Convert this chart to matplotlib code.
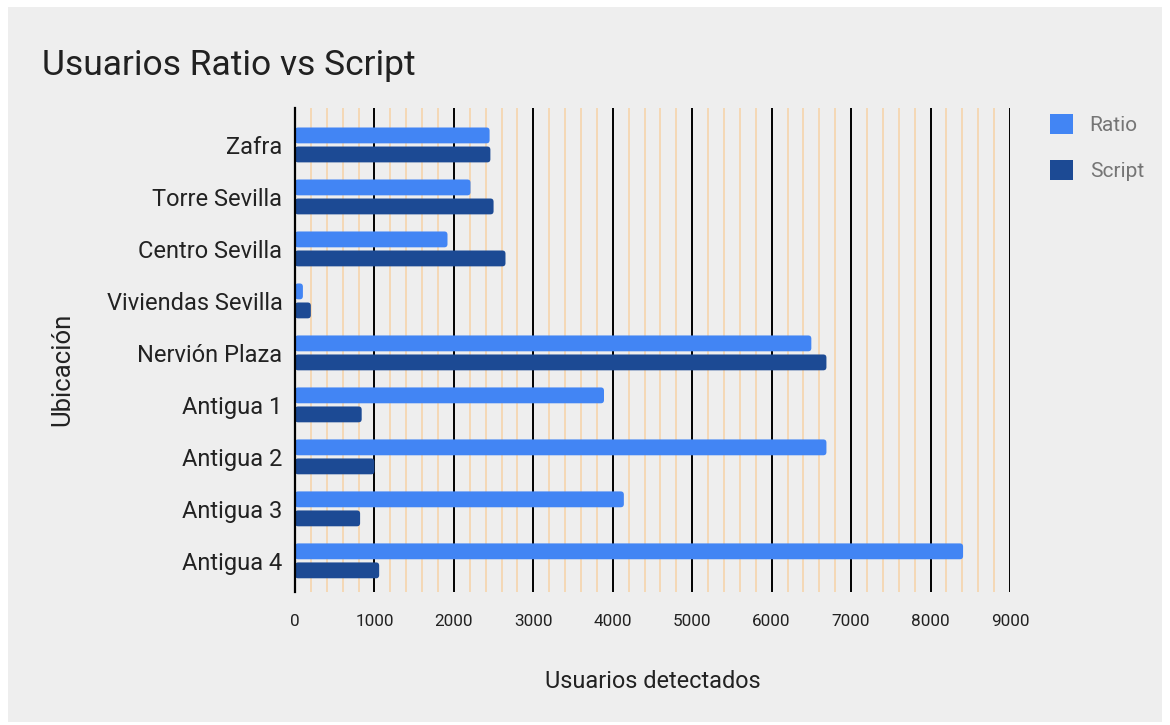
import numpy as np
import matplotlib.pyplot as plt
from matplotlib.patches import Rectangle, FancyBboxPatch, Patch
from matplotlib.ticker import MultipleLocator

plt.rcParams["font.family"] = ["Roboto", "DejaVu Sans"]

ubicaciones = ["Zafra", "Torre Sevilla", "Centro Sevilla", "Viviendas Sevilla",
               "Nervión Plaza", "Antigua 1", "Antigua 2", "Antigua 3", "Antigua 4"]
ratio = [2450, 2210, 1920, 100, 6500, 3890, 6690, 4140, 8410]
script = [2460, 2500, 2650, 200, 6690, 840, 1000, 820, 1060]

color_ratio = "#4285f4"
color_script = "#1c4a94"
fondo = "#eeeeee"

fig = plt.figure(figsize=(11.7, 7.25), dpi=100, facecolor="white")
fig.patches.append(Rectangle((0.007, 0.004), 0.986, 0.986, transform=fig.transFigure,
                             facecolor=fondo, edgecolor="none", zorder=-10))

ax = fig.add_axes([0.2521, 0.1834, 0.6111, 0.6676])
ax.set_facecolor(fondo)

ax.set_xlim(0, 9000)
ax.set_ylim(8.6, -0.71)

y = np.arange(len(ubicaciones))
alto = 0.305
bars_r = ax.barh(y - 0.183, ratio, height=alto, color=color_ratio, zorder=3)
bars_s = ax.barh(y + 0.183, script, height=alto, color=color_script, zorder=3)

# barras con extremos redondeados: se sustituye cada rectángulo por un FancyBboxPatch
asp = (9.31 / 484) / (9000 / 715)
for cont, col in [(bars_r, color_ratio), (bars_s, color_script)]:
    for p in cont.patches:
        p.set_visible(False)
        r = min(40, p.get_width() / 2)
        fb = FancyBboxPatch((p.get_x(), p.get_y()), p.get_width(), p.get_height(),
                            boxstyle=f"round,pad=0,rounding_size={r}",
                            mutation_aspect=asp, facecolor=col, edgecolor="none",
                            zorder=3)
        ax.add_patch(fb)

ax.set_yticks(y)
ax.set_yticklabels(ubicaciones)
ax.xaxis.set_major_locator(MultipleLocator(1000))
ax.xaxis.set_minor_locator(MultipleLocator(200))

ax.grid(axis="x", which="major", color="black", linewidth=1.4, zorder=1)
ax.grid(axis="x", which="minor", color="#f7d2a6", linewidth=1.1, zorder=0)
ax.set_axisbelow(True)

for s in ["top", "right", "bottom"]:
    ax.spines[s].set_visible(False)
ax.spines["left"].set_color("black")
ax.spines["left"].set_linewidth(1.6)
ax.spines["left"].set_zorder(4)

ax.tick_params(axis="both", which="both", length=0)
ax.tick_params(axis="y", labelsize=17, pad=9, colors="#222222")
ax.tick_params(axis="x", labelsize=12.3, pad=16, colors="#222222")

fig.text(0.036, 0.91, "Usuarios Ratio vs Script", fontsize=25.5, color="#212121",
         va="center", ha="left")
fig.text(0.5577, 0.06, "Usuarios detectados", fontsize=16.9, color="#222222",
         ha="center", va="center")
fig.text(0.053, 0.49, "Ubicación", fontsize=18.5, color="#222222",
         ha="center", va="center", rotation=90)

handles = [Patch(facecolor=color_ratio, label="Ratio"),
           Patch(facecolor=color_script, label="Script")]
ax.legend(handles=handles, loc="upper left", bbox_to_anchor=(1.03, 1.027),
          frameon=False, fontsize=15, labelcolor="#757575", handlelength=1.1,
          handleheight=1.1, labelspacing=1.2, handletextpad=0.8)

fig.savefig("out.png", dpi=100, facecolor=fig.get_facecolor())
